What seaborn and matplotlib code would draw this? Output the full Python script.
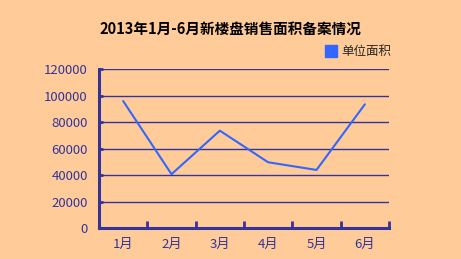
import matplotlib
matplotlib.use("Agg")
import matplotlib.pyplot as plt
import seaborn as sns
import pandas as pd
from matplotlib.lines import Line2D

months = ["1月", "2月", "3月", "4月", "5月", "6月"]
area = [96000, 40700, 73600, 49700, 43900, 93500]
yticks = [0, 20000, 40000, 60000, 80000, 100000, 120000]
title = "2013年1月-6月新楼盘销售面积备案情况"
series_name = "单位面积"

sns.set_theme(style="white")
plt.rcParams['font.family'] = ['Noto Sans CJK SC', 'DejaVu Sans']

bg = "#FFCC99"
navy = "#333399"
linec = "#3366FF"

df = pd.DataFrame({"month": months, "area": area})

fig = plt.figure(figsize=(4.61, 2.59), dpi=100, facecolor=bg)
ax = fig.add_axes([99/461, 1-228/259, (389-99)/461, (228-69.3)/259])
ax.set_facecolor(bg)

sns.lineplot(data=df, x="month", y="area", ax=ax, color=linec, linewidth=1.5, sort=False)

ax.set_xlim(-0.5, len(months) - 0.5)
ax.set_ylim(0, 120000)
ax.set_yticks(yticks)
ax.set_yticklabels([str(v) for v in yticks])
ax.set_xticks(range(len(months)))
ax.set_xticklabels(months)
ax.set_xticks([i - 0.5 for i in range(len(months) + 1)], minor=True)
ax.tick_params(axis='x', which='major', bottom=False, length=0, pad=7, labelsize=9.5, labelcolor=navy)
ax.tick_params(axis='x', which='minor', bottom=True, length=5, width=2, direction='in', color=navy)
ax.tick_params(axis='y', which='major', left=True, length=3, width=2, direction='in', color=navy,
               pad=8, labelsize=9.5, labelcolor=navy)
ax.set_xlabel("")
ax.set_ylabel("")

for v in yticks[1:]:
    ax.axhline(v, color=navy, linewidth=1, zorder=0)

for s in ["top", "right"]:
    ax.spines[s].set_visible(False)
for s in ["left", "bottom"]:
    ax.spines[s].set_color(navy)
    ax.spines[s].set_linewidth(2.2)

fig.text(0.5, 1-29/259, title, ha='center', va='center', fontsize=10.5,
         fontweight='bold', color='black')

handle = Line2D([0], [0], marker='s', linestyle='none', markersize=8,
                markerfacecolor=linec, markeredgecolor=linec)
fig.legend([handle], [series_name], loc='center left',
           bbox_to_anchor=(318/461, 1-52/259), frameon=False, fontsize=9,
           handletextpad=0.3, handlelength=1.2, borderaxespad=0)

fig.savefig("out.png", dpi=100, facecolor=bg)
